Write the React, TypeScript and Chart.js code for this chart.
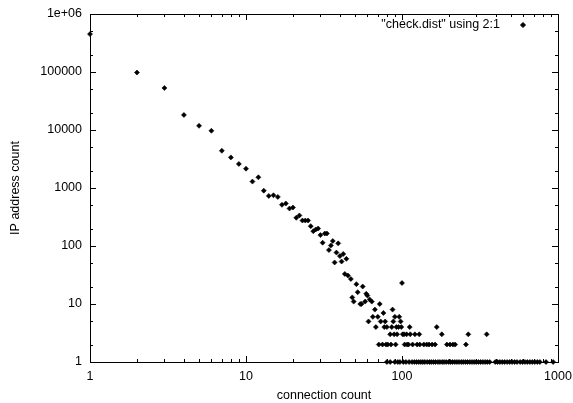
import { useEffect, useRef } from 'react';
import { Chart, registerables } from 'chart.js';
import { drawPoint } from 'chart.js/helpers';

Chart.register(...registerables);

// Main (decreasing) part of the distribution: connection count -> IP address count
const mainCounts = [1, 2, 3, 4, 5, 6, 7, 8, 9, 10, 11, 12, 13, 14, 15, 16, 17, 18, 19, 20,
  21, 22, 23, 24, 25, 26, 27, 28, 29, 30, 31, 32, 33, 34, 35, 36, 37, 38, 39, 40,
  41, 42, 43, 44, 45, 47, 48, 49, 51, 52, 54, 55, 56, 58, 59, 60, 62, 64, 67, 72, 76, 87, 100];
const mainIPs = [450000, 98000, 53000, 18200, 11800, 9700, 4390, 3370, 2600, 2150, 1290, 1530, 900, 731, 750, 703, 513, 540, 443, 460,
  306, 336, 275, 275, 275, 220, 180, 193, 200, 154, 114, 164, 164, 85, 102, 122, 52, 77, 111, 67,
  54, 73, 33, 60, 31, 27, 13, 11, 22, 16, 10, 10, 20, 11, 15, 14, 12, 11, 8, 10, 7, 8, 23];

// Tail: connection counts having only a few IP addresses
const countsWith6 = [65, 70, 90, 96];
const countsWith5 = [61, 73, 78, 88, 98];
const countsWith4 = [68, 77, 80, 86, 92, 95, 99, 112, 167];
const countsWith3 = [84, 89, 93, 101, 103, 107, 113, 121, 129, 180, 266, 349];
const countsWith2 = [71, 75, 79, 81, 85, 91, 104, 108, 110, 117, 125, 130, 138, 144, 149, 156, 163, 194, 203, 212, 219, 257];
const countsWith1 = [80, 84, 90, 94, 97, 102, 106, 111, 116, 120, 124, 128, 132, 136, 140, 145, 150, 154, 159, 164,
  170, 175, 181, 186, 192, 199, 205, 211, 218, 225, 232, 240, 247, 255, 263, 272, 281, 290, 299, 309,
  319, 330, 341, 352, 365, 396, 410, 424, 439, 455, 472, 490, 508, 527, 546, 572, 593, 614, 636, 660,
  684, 710, 737, 765, 838, 931];

// Axes
const xTickValues = [1, 10, 100, 1000];
const xTickLabels = ['1', '10', '100', '1000'];
const yTickValues = [1, 10, 100, 1000, 10000, 100000, 1000000];
const yTickLabels = ['1', '10', '100', '1000', '10000', '100000', '1e+06'];
const xMinorFactors = [2, 3, 4, 5, 6, 7, 8, 9];
const yMinorFactors = [2, 5];

const seriesLabel = '"check.dist" using 2:1';
const FONT = 'Liberation Sans, Arial, Helvetica, sans-serif';

const points = [
  ...mainCounts.map((x, i) => ({ x, y: mainIPs[i] })),
  ...countsWith6.map((x) => ({ x, y: 6 })),
  ...countsWith5.map((x) => ({ x, y: 5 })),
  ...countsWith4.map((x) => ({ x, y: 4 })),
  ...countsWith3.map((x) => ({ x, y: 3 })),
  ...countsWith2.map((x) => ({ x, y: 2 })),
  ...countsWith1.map((x) => ({ x, y: 1 })),
];

const POINT_STYLE = { pointStyle: 'rectRot', radius: 2.5, borderWidth: 0.6, rotation: 0 };

const framePlugin = {
  id: 'gnuFrame',
  afterDraw(chart: any) {
    const { ctx, chartArea: a, scales } = chart;
    const xs = scales.x;
    const ys = scales.y;
    const major = 6;
    const minor = 3;
    ctx.save();
    ctx.strokeStyle = '#000';
    ctx.lineWidth = 1;
    ctx.beginPath();
    const seg = (x1: number, y1: number, x2: number, y2: number) => {
      ctx.moveTo(x1, y1);
      ctx.lineTo(x2, y2);
    };
    // x ticks (bottom and mirrored top)
    xTickValues.forEach((v, i) => {
      const px = Math.round(xs.getPixelForValue(v)) + 0.5;
      seg(px, a.bottom, px, a.bottom - major);
      seg(px, a.top, px, a.top + major);
      if (i < xTickValues.length - 1) {
        xMinorFactors.forEach((f) => {
          const mx = Math.round(xs.getPixelForValue(v * f)) + 0.5;
          seg(mx, a.bottom, mx, a.bottom - minor);
          seg(mx, a.top, mx, a.top + minor);
        });
      }
    });
    // y ticks (left and mirrored right)
    yTickValues.forEach((v, i) => {
      const py = Math.round(ys.getPixelForValue(v)) + 0.5;
      seg(a.left, py, a.left + major, py);
      seg(a.right, py, a.right - major, py);
      if (i < yTickValues.length - 1) {
        yMinorFactors.forEach((f) => {
          const my = Math.round(ys.getPixelForValue(v * f)) + 0.5;
          seg(a.left, my, a.left + minor, my);
          seg(a.right, my, a.right - minor, my);
        });
      }
    });
    ctx.stroke();
    ctx.strokeRect(Math.round(a.left) + 0.5, Math.round(a.top) + 0.5,
      Math.round(a.right - a.left), Math.round(a.bottom - a.top));

    // gnuplot-style key: text then sample marker
    ctx.fillStyle = '#000';
    ctx.font = `12.5px ${FONT}`;
    ctx.textAlign = 'right';
    ctx.textBaseline = 'middle';
    ctx.fillText(chart.data.datasets[0].label, a.right - 58, a.top + 11);
    drawPoint(ctx, POINT_STYLE as any, a.right - 35, a.top + 11);
    ctx.restore();
  },
};

export default function App() {
  const ref = useRef<HTMLCanvasElement>(null);
  useEffect(() => {
    document.body.style.margin = '0';
    Chart.defaults.font.family = FONT;
    Chart.defaults.color = '#000';
    const chart = new Chart(ref.current as HTMLCanvasElement, {
      type: 'scatter',
      data: {
        datasets: [
          {
            label: seriesLabel,
            data: points,
            backgroundColor: '#000',
            borderColor: '#000',
            pointStyle: 'rectRot',
            pointRadius: 2.5,
            pointBorderWidth: 0.6,
            pointHoverRadius: 2.5,
            clip: false as any,
          },
        ],
      },
      options: {
        responsive: false,
        animation: false,
        devicePixelRatio: 1,
        layout: { padding: { top: 14, right: 15, left: 0, bottom: 0 } },
        plugins: { legend: { display: false }, tooltip: { enabled: false } },
        scales: {
          x: {
            type: 'logarithmic',
            min: 1,
            max: 1000,
            afterBuildTicks: (s: any) => {
              s.ticks = xTickValues.map((value) => ({ value }));
            },
            afterFit: (s: any) => {
              s.height = 41;
              s.paddingLeft = 0;
              s.paddingRight = 0;
            },
            grid: { display: false, drawTicks: false },
            border: { display: false },
            ticks: {
              autoSkip: false,
              maxRotation: 0,
              padding: 7,
              font: { size: 12.5 },
              color: '#000',
              callback: (_v: any, i: number) => xTickLabels[i],
            },
            title: {
              display: true,
              text: 'connection count',
              font: { size: 12.5 },
              color: '#000',
              padding: { top: 3, bottom: 0 },
            },
          },
          y: {
            type: 'logarithmic',
            min: 1,
            max: 1000000,
            afterBuildTicks: (s: any) => {
              s.ticks = yTickValues.map((value) => ({ value }));
            },
            afterFit: (s: any) => {
              s.width = 90;
              s.paddingTop = 0;
              s.paddingBottom = 0;
            },
            grid: { display: false, drawTicks: false },
            border: { display: false },
            ticks: {
              autoSkip: false,
              padding: 8,
              font: { size: 12.5 },
              color: '#000',
              callback: (_v: any, i: number) => yTickLabels[i],
            },
            title: {
              display: true,
              text: 'IP address count',
              font: { size: 12.5 },
              color: '#000',
              padding: { top: 8, bottom: 0 },
            },
          },
        },
      },
      plugins: [framePlugin],
    });
    return () => chart.destroy();
  }, []);
  return (
    <div style={{ position: 'absolute', left: 0, top: 0, width: 573, height: 403, background: '#fff' }}>
      <canvas ref={ref} width={573} height={403} style={{ display: 'block' }} />
    </div>
  );
}
